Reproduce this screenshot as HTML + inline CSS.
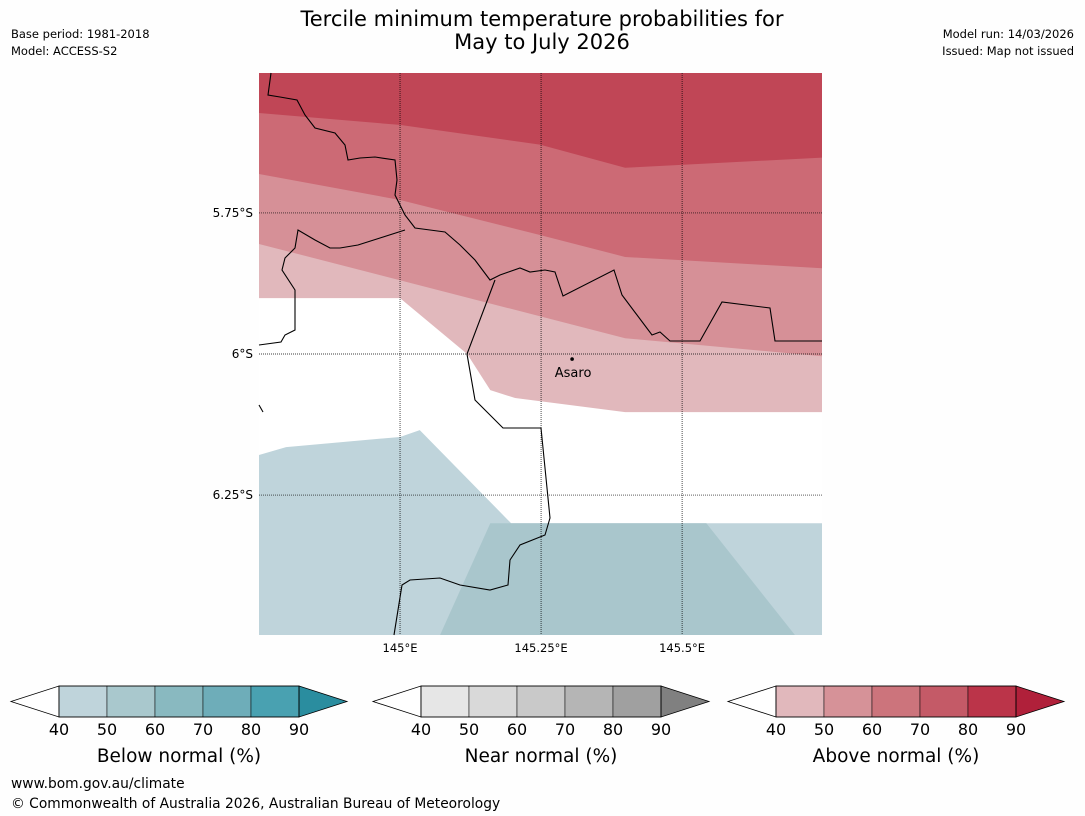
<!DOCTYPE html>
<html><head><meta charset="utf-8"><style>
body{margin:0;background:#fefefe;font-family:"Liberation Sans","DejaVu Sans",sans-serif;}
svg{display:block}
</style></head><body>
<svg width="1085" height="816" xmlns="http://www.w3.org/2000/svg" font-family="DejaVu Sans, Liberation Sans, sans-serif">
<rect width="1085" height="816" fill="#fefefe"/>
<text x="542" y="26" font-size="21" text-anchor="middle">Tercile minimum temperature probabilities for</text>
<text x="542" y="49" font-size="21" text-anchor="middle">May to July 2026</text>
<text x="11" y="38" font-size="11.5">Base period: 1981-2018</text>
<text x="11" y="55" font-size="11.5">Model: ACCESS-S2</text>
<text x="1074" y="38" font-size="11.5" text-anchor="end">Model run: 14/03/2026</text>
<text x="1074" y="55" font-size="11.5" text-anchor="end">Issued: Map not issued</text>
<g id="map"></g>
<g id="bars"></g>
<text x="11" y="788" font-size="13.8">www.bom.gov.au/climate</text>
<text x="11" y="808" font-size="13.8">© Commonwealth of Australia 2026, Australian Bureau of Meteorology</text>
</svg>
<script>
// map extent
const lonRange=[144.75,145.748], latRange=[5.502,6.498];
const lonTicks=[145,145.25,145.5], lonTickLabels=['145°E','145.25°E','145.5°E'];
const latTicks=[5.75,6.0,6.25], latTickLabels=['5.75°S','6°S','6.25°S'];
// probability band boundaries (lon, lat°S)
const band40Above=[[144.75,5.901],[145,5.901],[145.119,6.0],[145.160,6.064],[145.204,6.078],[145.399,6.103],[145.748,6.103]];
const band50Above=[[144.75,5.805],[145.399,5.972],[145.748,6.004]];
const band60Above=[[144.75,5.681],[145,5.727],[145.248,5.789],[145.399,5.828],[145.748,5.848]];
const band70Above=[[144.75,5.573],[145,5.594],[145.248,5.629],[145.399,5.670],[145.748,5.652]];
const band40Below=[[144.75,6.179],[144.798,6.165],[145,6.147],[145.035,6.135],[145.197,6.300],[145.748,6.300],[145.748,6.498],[144.75,6.498]];
const band50Below=[[145.160,6.300],[145.543,6.300],[145.700,6.498],[145.071,6.498]];
const town={name:'Asaro',lon:145.305,lat:6.009};
const X0=259,X1=822,Y0=73,Y1=635;
const x=l=>X0+(l-lonRange[0])/(lonRange[1]-lonRange[0])*(X1-X0);
const y=l=>Y0+(l-latRange[0])/(latRange[1]-latRange[0])*(Y1-Y0);
const NS='http://www.w3.org/2000/svg';
function mk(t,a,p){const e=document.createElementNS(NS,t);for(const k in a)e.setAttribute(k,a[k]);p.appendChild(e);return e;}
const map=document.getElementById('map');
mk('rect',{x:X0,y:Y0,width:X1-X0,height:Y1-Y0,fill:'#ffffff'},map);
function topBand(b,col,name){
  const pts=[[lonRange[0],latRange[0]],...b,[lonRange[1],latRange[0]]];
  const e=mk('polygon',{points:pts.map(p=>x(p[0])+','+y(p[1])).join(' '),fill:col},map);
  
  
}
topBand(band40Above,'#e1b8bc','above-40-band');
topBand(band50Above,'#d69097','above-50-band');
topBand(band60Above,'#cc6a75','above-60-band');
topBand(band70Above,'#c04656','above-70-band');
function poly(b,col,name){
  const e=mk('polygon',{points:b.map(p=>x(p[0])+','+y(p[1])).join(' '),fill:col},map);
  
  
}
poly(band40Below,'#bfd4db','below-40-band');
poly(band50Below,'#a9c6cc','below-50-band');
// grid
lonTicks.forEach((t,i)=>{
  const g=mk('line',{x1:x(t),x2:x(t),y1:Y0,y2:Y1,stroke:'#000','stroke-width':0.7,'stroke-dasharray':'1,1'},map);
  
  
  const tx=mk('text',{x:x(t),y:652,'font-size':11.5,'text-anchor':'middle'},map);tx.textContent=lonTickLabels[i];
  
  
});
latTicks.forEach((t,i)=>{
  const g=mk('line',{x1:X0,x2:X1,y1:y(t),y2:y(t),stroke:'#000','stroke-width':0.7,'stroke-dasharray':'1,1'},map);
  
  
  const tx=mk('text',{x:253,y:y(t)+4,'font-size':12,'text-anchor':'end'},map);tx.textContent=latTickLabels[i];
  
  
});
// borders (screen-space geography outlines)
const borders=[
 [[271,73],[268,95],[280,97],[297,100],[305,115],[315,128],[335,133],[345,145],[348,160],[360,158],[375,157],[395,160],[397,180],[395,195],[405,215],[415,228],[430,230],[445,232],[460,245],[475,260],[490,280],[500,275],[520,268],[530,272],[545,270],[555,272],[563,296],[614,270],[622,295],[652,335],[660,332],[670,341],[700,341],[722,302],[770,308],[775,341],[822,341]],
 [[405,230],[380,238],[358,245],[340,248],[330,248],[315,240],[298,230],[295,248],[285,258],[282,270],[295,290],[295,330],[285,335],[281,342],[259,345]],
 [[495,280],[467,354],[475,400],[503,428],[541,428],[550,518],[545,535],[520,545],[510,560],[508,585],[490,590],[460,585],[440,578],[410,580],[402,585],[394,635]],
 [[259,405],[263,412]]
];
borders.forEach(b=>{
  const e=mk('polyline',{points:b.join(' '),fill:'none',stroke:'#000','stroke-width':1.1},map);
  
  
});
const d=mk('circle',{cx:x(town.lon),cy:y(town.lat),r:1.8,fill:'#000'},map);


const tl=mk('text',{x:x(town.lon)+1,y:y(town.lat)+18,'font-size':13,'text-anchor':'middle'},map);tl.textContent=town.name;


// colourbars
const cbTicks=[40,50,60,70,80,90];
const blueCols=['#bfd4db','#a9c8cd','#89b9c0','#6eadb9','#49a1b1','#2a8d9f'];
const grayCols=['#e6e6e6','#d9d9d9','#c9c9c9','#b5b5b5','#a0a0a0','#808080'];
const redCols=['#e1b8bc','#d69298','#cc747c','#c45a67','#bb3449','#b0203a'];
const bars=document.getElementById('bars');
function cbar(x0,cols,label,name){
  const g=mk('g',{},bars);
  
  
  const y0=686,h=31,w=48,bx=x0+48;
  mk('polygon',{points:`${x0},${y0+h/2} ${bx},${y0} ${bx},${y0+h}`,fill:'#fff',stroke:'#000','stroke-width':0.8},g);
  for(let i=0;i<5;i++)mk('rect',{x:bx+i*w,y:y0,width:w,height:h,fill:cols[i],stroke:'#000','stroke-width':0.5},g);
  const ex=bx+5*w;
  mk('polygon',{points:`${ex},${y0} ${ex+48},${y0+h/2} ${ex},${y0+h}`,fill:cols[5],stroke:'#000','stroke-width':0.8},g);
  mk('rect',{x:bx,y:y0,width:5*w,height:h,fill:'none',stroke:'#000','stroke-width':0.8},g);
  cbTicks.forEach((t,i)=>{const tx=mk('text',{x:bx+i*w,y:735,'font-size':16,'text-anchor':'middle'},g);tx.textContent=t;});
  const lt=mk('text',{x:bx+120,y:762,'font-size':18.5,'text-anchor':'middle'},g);lt.textContent=label;
}
cbar(11,blueCols,'Below normal (%)','below-normal-colorbar');
cbar(373,grayCols,'Near normal (%)','near-normal-colorbar');
cbar(728,redCols,'Above normal (%)','above-normal-colorbar');
</script>
</body></html>
